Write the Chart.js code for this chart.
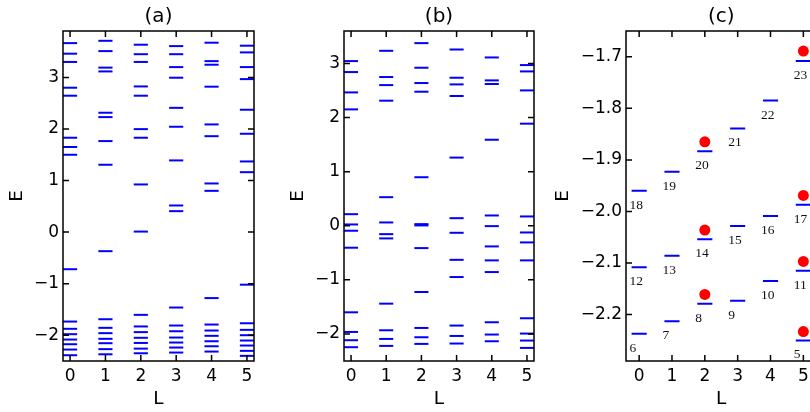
<!DOCTYPE html>
<html>
<head>
<meta charset="utf-8">
<title>Niveles de energía</title>
<script src="https://cdn.jsdelivr.net/npm/chart.js@4.4.1/dist/chart.umd.min.js"></script>
<style>
    html, body { margin: 0; padding: 0; background: #fff; overflow: hidden; }
    #figura { position: relative; width: 810px; height: 412px; overflow: hidden; }
    .panel { position: absolute; top: 0; height: 412px; }
</style>
</head>
<body>
<div id="figura">
    <div class="panel" style="left:0;width:270px"><canvas id="panelA"></canvas></div>
    <div class="panel" style="left:270px;width:270px"><canvas id="panelB"></canvas></div>
    <div class="panel" style="left:540px;width:290px"><canvas id="panelC"></canvas></div>
</div>
<script>
// Momento angular L (eje x) y marcas de los ejes
const momentos = [0, 1, 2, 3, 4, 5];
const ticksL = [0, 1, 2, 3, 4, 5];
const ticksEA = [-2, -1, 0, 1, 2, 3];
const ticksEB = [-2, -1, 0, 1, 2, 3];
const ticksEC = [-2.2, -2.1, -2.0, -1.9, -1.8, -1.7];

// Panel (a): energías para cada L
const nivelesA = [
    [3.665, 3.46, 3.30, 2.80, 2.645, 1.83, 1.65, 1.50, -0.72, -1.735, -1.876, -1.98, -2.084, -2.175, -2.278, -2.388],
    [3.71, 3.51, 3.19, 3.116, 2.315, 2.23, 1.765, 1.306, -0.37, -1.69, -1.857, -1.96, -2.07, -2.155, -2.27, -2.37],
    [3.634, 3.45, 3.30, 2.825, 2.645, 1.997, 1.83, 0.924, 0.01, -1.605, -1.83, -1.94, -2.05, -2.15, -2.26, -2.35],
    [3.607, 3.45, 3.20, 2.994, 2.41, 2.043, 1.39, 0.516, 0.406, -1.463, -1.812, -1.923, -2.045, -2.142, -2.239, -2.336],
    [3.673, 3.316, 3.246, 2.82, 2.088, 1.86, 0.943, 0.80, -1.28, -1.793, -1.909, -2.012, -2.117, -2.214, -2.317],
    [3.615, 3.485, 3.20, 2.967, 2.373, 1.907, 1.37, 1.162, -1.02, -1.768, -1.896, -2.0, -2.103, -2.2, -2.303, -2.40]
];

// Panel (b): energías para cada L
const nivelesB = [
    [3.044, 2.841, 2.465, 2.151, 0.214, 0.024, -0.092, -0.406, -1.60, -1.963, -2.116, -2.245],
    [3.234, 2.749, 2.60, 2.312, 0.528, 0.061, -0.155, -0.234, -1.44, -1.932, -2.092, -2.221],
    [3.376, 2.921, 2.638, 2.478, 0.897, 0.03, 0.006, -0.413, -1.225, -1.889, -2.061, -2.184],
    [3.258, 2.736, 2.613, 2.398, 1.26, 0.14, -0.13, -0.63, -0.948, -1.845, -2.037, -2.177],
    [3.111, 2.687, 2.62, 1.59, 0.19, -0.007, -0.382, -0.64, -0.856, -1.784, -2.011, -2.135],
    [2.97, 2.853, 2.502, 1.887, 0.172, -0.124, -0.308, -0.64, -1.71, -1.993, -2.122, -2.258]
];

// Panel (c): niveles numerados y puntos de comparación
const nivelesC = [
    [-2.237, -2.108, -1.960],
    [-2.213, -2.086, -1.923],
    [-2.179, -2.054, -1.883],
    [-2.173, -2.028, -1.839],
    [-2.135, -2.009, -1.785],
    [-2.250, -2.115, -1.987, -1.708]
];
const numerosC = [
    [6, 12, 18],
    [7, 13, 19],
    [8, 14, 20],
    [9, 15, 21],
    [10, 16, 22],
    [5, 11, 17, 23]
];
const puntosL = [2, 5];
const puntosE = [
    [-2.161, -2.036, -1.865],
    [-2.233, -2.097, -1.969, -1.689]
];

Chart.defaults.font.family = "'DejaVu Sans', sans-serif";
Chart.defaults.color = '#000';

// Cambia el guion por el signo menos tipográfico
function conMenos(texto) {
    return texto.replace('-', '\u2212');
}

// Marco del área y marcas hacia adentro en los cuatro lados
const marcoConTicks = {
    id: 'marcoConTicks',
    afterDraw(chart) {
        const { ctx, chartArea: a, scales: { x, y } } = chart;
        const largo = 6;
        ctx.save();
        ctx.strokeStyle = '#000';
        ctx.lineWidth = 1.5;
        ctx.beginPath();
        x.ticks.forEach(t => {
            const px = x.getPixelForValue(t.value);
            ctx.moveTo(px, a.bottom); ctx.lineTo(px, a.bottom - largo);
            ctx.moveTo(px, a.top); ctx.lineTo(px, a.top + largo);
        });
        y.ticks.forEach(t => {
            const py = y.getPixelForValue(t.value);
            ctx.moveTo(a.left, py); ctx.lineTo(a.left + largo, py);
            ctx.moveTo(a.right, py); ctx.lineTo(a.right - largo, py);
        });
        ctx.stroke();
        ctx.strokeRect(a.left, a.top, a.right - a.left, a.bottom - a.top);
        ctx.restore();
    }
};

// Números debajo de cada nivel del panel (c)
const numerosNiveles = {
    id: 'numerosNiveles',
    afterDatasetsDraw(chart) {
        const { ctx, scales: { x, y } } = chart;
        ctx.save();
        ctx.fillStyle = '#111';
        ctx.font = "13.5px 'Liberation Serif', serif";
        ctx.textAlign = 'left';
        ctx.textBaseline = 'middle';
        nivelesC.forEach((lista, i) => {
            lista.forEach((e, j) => {
                const px = x.getPixelForValue(momentos[i] - 0.29);
                const py = y.getPixelForValue(e - 0.028);
                ctx.fillText(String(numerosC[i][j]), px, py);
            });
        });
        ctx.restore();
    }
};

// Función para crear un panel de niveles
function crearPanel(id, cfg) {
    const ctx = document.getElementById(id).getContext('2d');

    const segmentos = [];
    cfg.niveles.forEach((lista, i) => {
        lista.forEach(e => segmentos.push({ x: momentos[i], y: e }));
    });

    // media anchura del segmento, en unidades de L
    const radioSegmento = c => {
        const sx = c.chart.scales.x;
        return sx.getPixelForValue(cfg.mitad) - sx.getPixelForValue(0);
    };

    const datasets = [{
        data: segmentos,
        pointStyle: 'line',
        pointRadius: radioSegmento,
        pointHoverRadius: radioSegmento,
        borderColor: '#0000ff',
        borderWidth: 2,
        showLine: false
    }];

    if (cfg.puntos) {
        const rojos = [];
        cfg.puntos.forEach((lista, i) => {
            lista.forEach(e => rojos.push({ x: puntosL[i], y: e }));
        });
        datasets.push({
            data: rojos,
            pointStyle: 'circle',
            pointRadius: 5.5,
            pointHoverRadius: 5.5,
            backgroundColor: '#ff0000',
            borderWidth: 0,
            showLine: false
        });
    }

    return new Chart(ctx, {
        type: 'scatter',
        data: { datasets: datasets },
        options: {
            responsive: true,
            maintainAspectRatio: false,
            animation: false,
            events: [],
            layout: { padding: { left: 0, right: cfg.derecha, top: 0, bottom: 0 } },
            plugins: {
                legend: { display: false },
                tooltip: { enabled: false },
                title: {
                    display: true,
                    text: cfg.titulo,
                    fullSize: false,
                    font: { size: 20, weight: 'normal' },
                    color: '#000',
                    padding: { top: 5, bottom: 2 }
                }
            },
            scales: {
                x: {
                    type: 'linear',
                    min: cfg.xMin,
                    max: cfg.xMax,
                    afterBuildTicks: s => { s.ticks = ticksL.map(v => ({ value: v })); },
                    afterFit: s => { s.height = 51; },
                    grid: { display: false, drawTicks: false },
                    border: { display: false },
                    ticks: {
                        font: { size: 17 },
                        color: '#000',
                        padding: 5,
                        autoSkip: false,
                        maxRotation: 0,
                        callback: v => String(v)
                    },
                    title: {
                        display: true,
                        text: 'L',
                        font: { size: 18.5 },
                        color: '#000',
                        padding: { top: 0, bottom: 2 }
                    }
                },
                y: {
                    type: 'linear',
                    min: cfg.yMin,
                    max: cfg.yMax,
                    afterBuildTicks: s => { s.ticks = cfg.ticksE.map(v => ({ value: v })); },
                    afterFit: s => { s.width = cfg.anchoY; },
                    grid: { display: false, drawTicks: false },
                    border: { display: false },
                    ticks: {
                        font: { size: 17 },
                        color: '#000',
                        padding: 4,
                        autoSkip: false,
                        callback: v => conMenos(cfg.decimales ? v.toFixed(cfg.decimales) : String(v))
                    },
                    title: {
                        display: true,
                        text: 'E',
                        font: { size: 18.5 },
                        color: '#000',
                        padding: { top: cfg.padE, bottom: 0 }
                    }
                }
            }
        },
        plugins: cfg.etiquetas ? [marcoConTicks, numerosNiveles] : [marcoConTicks]
    });
}

// Evento de carga de la página
document.addEventListener('DOMContentLoaded', () => {
    crearPanel('panelA', {
        titulo: '(a)', niveles: nivelesA, ticksE: ticksEA,
        xMin: -0.2, xMax: 5.2, yMin: -2.5, yMax: 3.9,
        mitad: 0.2, anchoY: 63, derecha: 16, padE: 6
    });
    crearPanel('panelB', {
        titulo: '(b)', niveles: nivelesB, ticksE: ticksEB,
        xMin: -0.2, xMax: 5.2, yMin: -2.5, yMax: 3.6,
        mitad: 0.2, anchoY: 74, derecha: 6, padE: 17
    });
    crearPanel('panelC', {
        titulo: '(c)', niveles: nivelesC, ticksE: ticksEC, puntos: puntosE,
        xMin: -0.4, xMax: 5.4, yMin: -2.29, yMax: -1.65, decimales: 1,
        mitad: 0.23, anchoY: 86, derecha: 13.5, padE: 12, etiquetas: true
    });
});
</script>
</body>
</html>
